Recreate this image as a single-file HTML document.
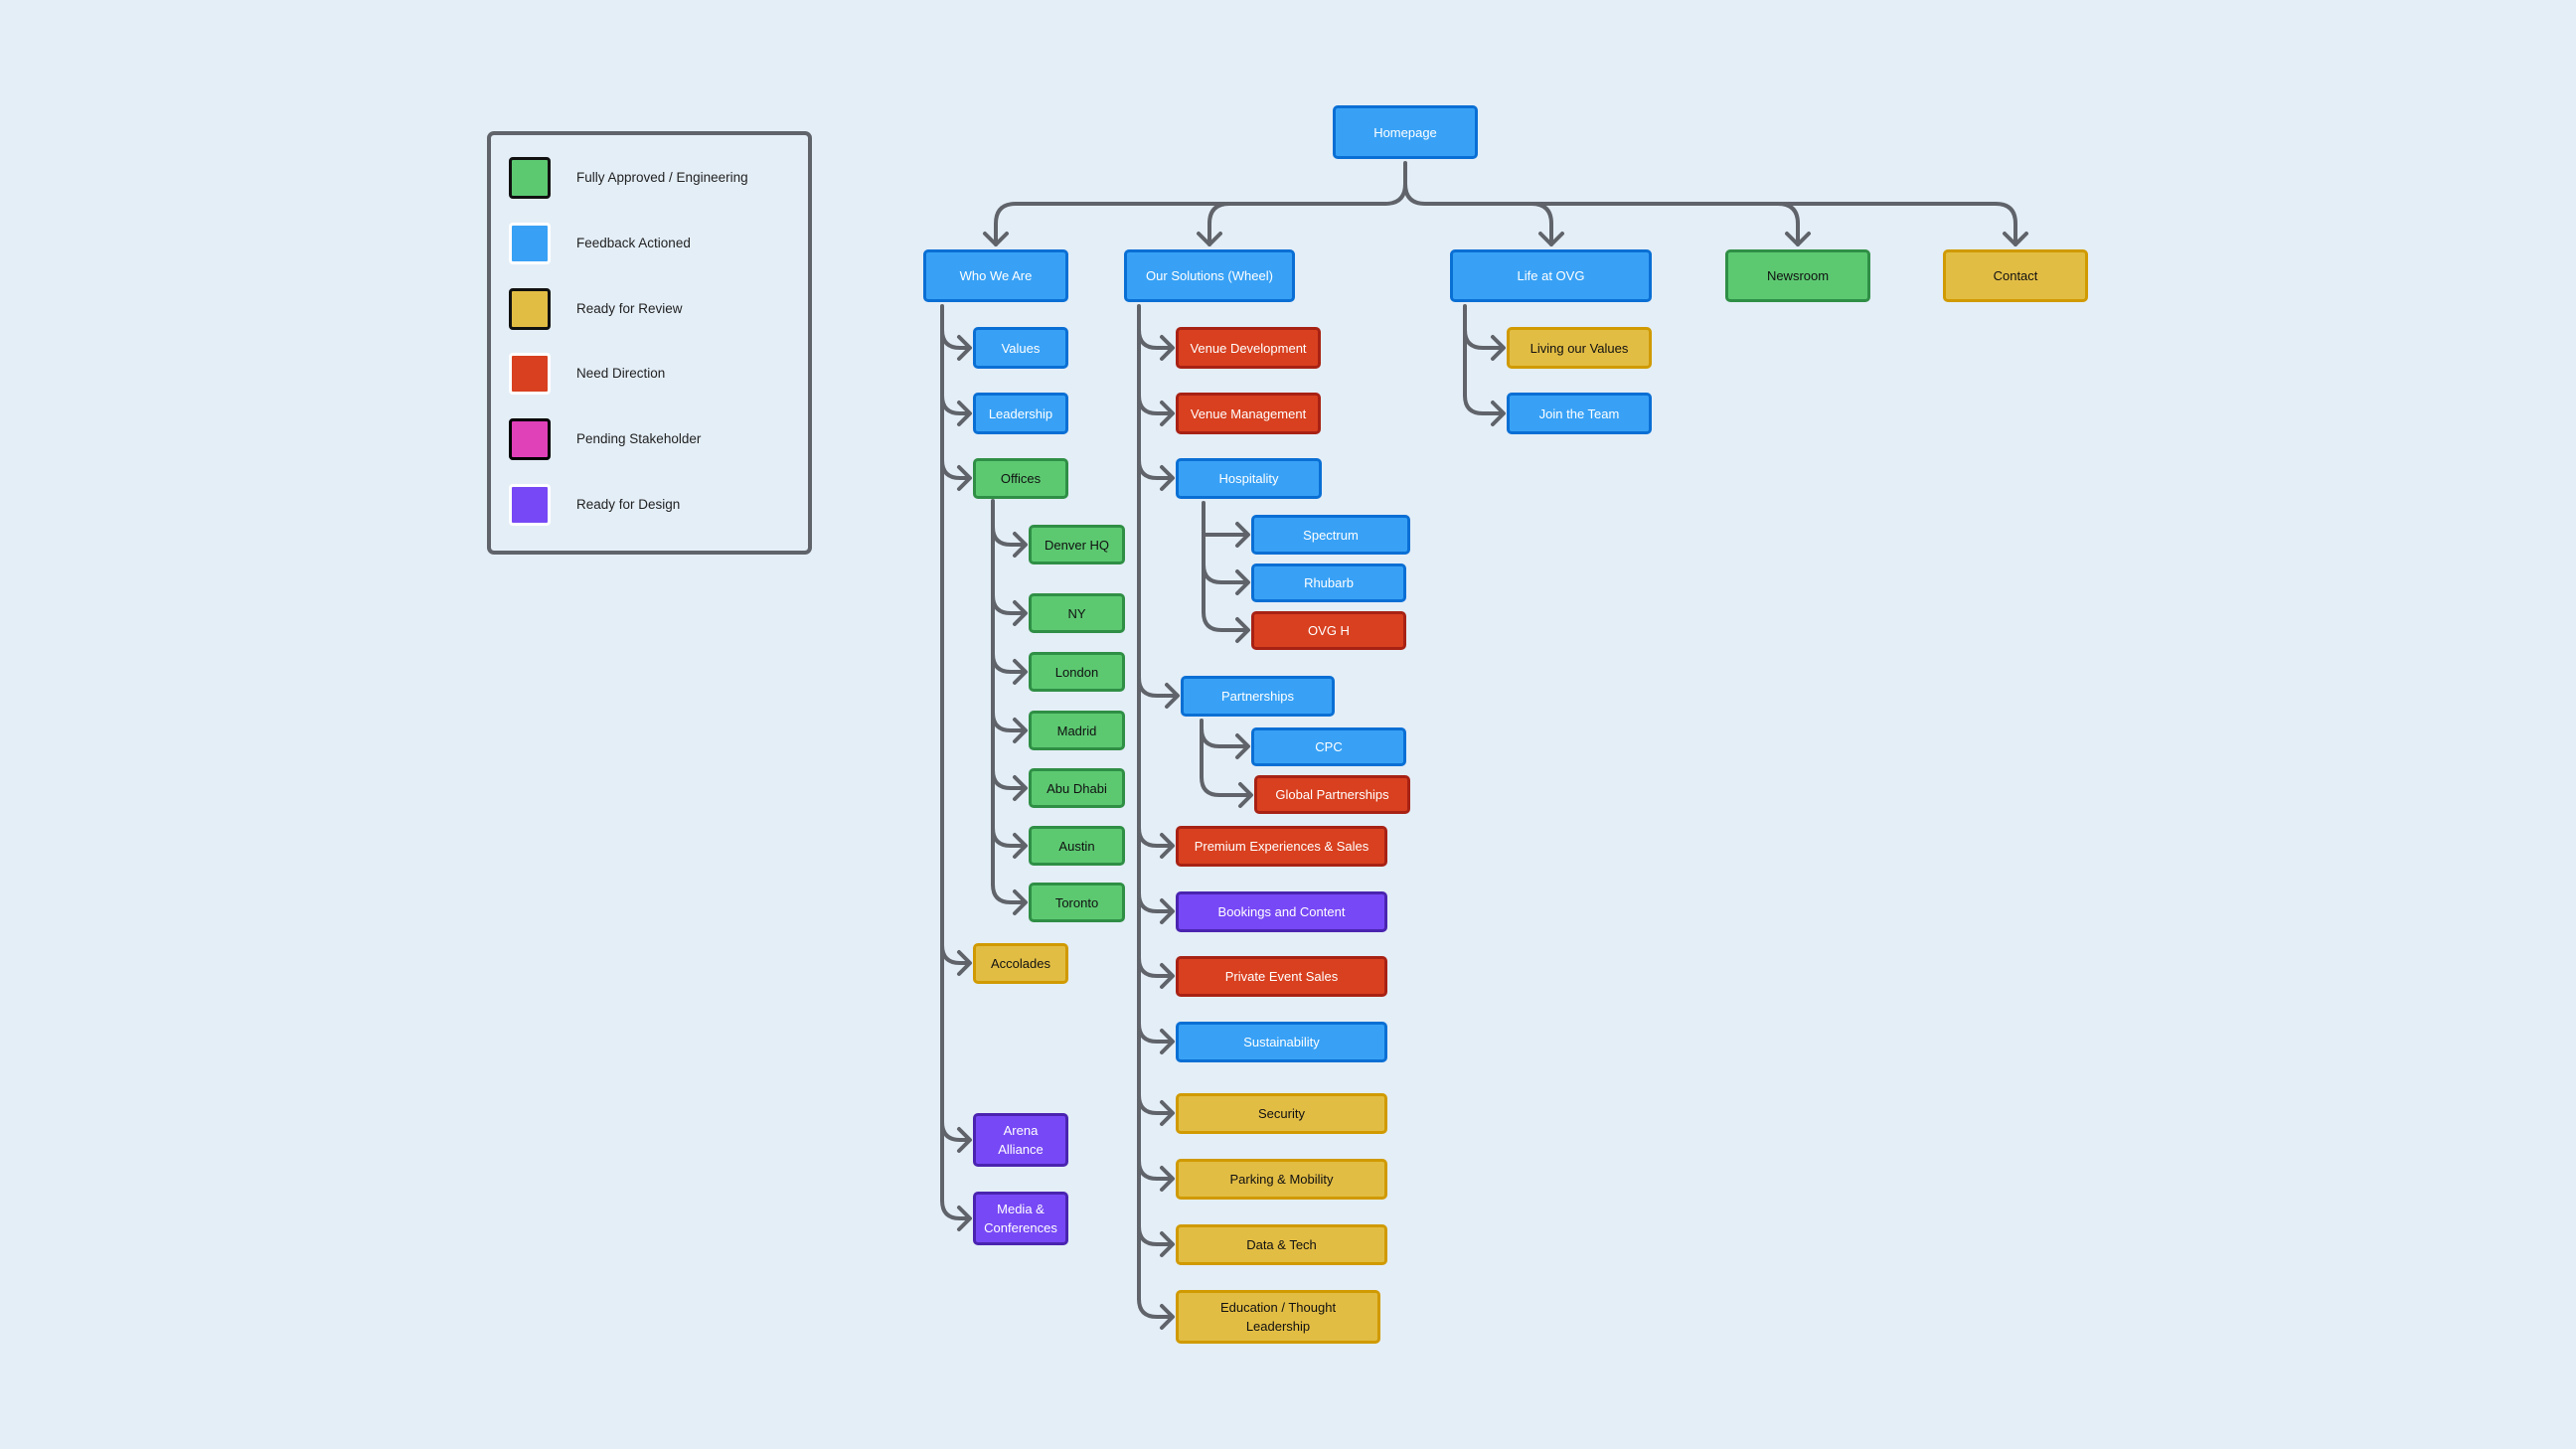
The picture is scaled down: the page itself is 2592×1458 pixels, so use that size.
<!DOCTYPE html>
<html><head><meta charset="utf-8"><style>
html,body{margin:0;padding:0}
body{width:2592px;height:1458px;background:#e4eef7;position:relative;overflow:hidden;font-family:"Liberation Sans",sans-serif}
.n{position:absolute;box-sizing:border-box;border:3px solid;border-radius:5px;display:flex;align-items:center;justify-content:center;text-align:center;font-size:13px;line-height:19px}
.b{background:#38a1f5;border-color:#0a6fd4;color:#fff}
.g{background:#5cc971;border-color:#2f8f45;color:#111}
.y{background:#e2bd44;border-color:#d09a00;color:#111}
.r{background:#d8401f;border-color:#a82214;color:#fff}
.p{background:#7748f5;border-color:#4a24b0;color:#fff}
.k{background:#e040b8;border-color:#a0207f}
.leg{position:absolute;left:490px;top:132px;width:327px;height:426px;box-sizing:border-box;border:4px solid #60646a;border-radius:7px}
.sw{position:absolute;left:512px;width:42px;height:42px;box-sizing:border-box;border:3px solid;border-radius:4px}
.lt{position:absolute;left:580px;font-size:13.5px;color:#222;line-height:42px}
svg{position:absolute;left:0;top:0}
</style></head><body>
<div class="leg"></div>
<div class="sw g" style="top:158px"></div><div class="lt" style="top:158px">Fully Approved / Engineering</div>
<div class="sw b" style="top:224px"></div><div class="lt" style="top:224px">Feedback Actioned</div>
<div class="sw y" style="top:290px"></div><div class="lt" style="top:290px">Ready for Review</div>
<div class="sw r" style="top:355px"></div><div class="lt" style="top:355px">Need Direction</div>
<div class="sw k" style="top:421px"></div><div class="lt" style="top:421px">Pending Stakeholder</div>
<div class="sw p" style="top:487px"></div><div class="lt" style="top:487px">Ready for Design</div>

<svg width="2592" height="1458" fill="none" stroke="#60646a" stroke-width="4" stroke-linecap="round" stroke-linejoin="round">
<!-- top -->
<path d="M1414 164 L1414 185 Q1414 205 1394 205 L1022 205 Q1002 205 1002 225 L1002 246"/>
<path d="M1414 185 Q1414 205 1434 205 L2008 205 Q2028 205 2028 225 L2028 246"/>
<path d="M1237 205 Q1217 205 1217 225 L1217 246"/>
<path d="M1541 205 Q1561 205 1561 225 L1561 246"/>
<path d="M1789 205 Q1809 205 1809 225 L1809 246"/>
<path d="M991 235 L1002 246 L1013 235 M1206 235 L1217 246 L1228 235 M1550 235 L1561 246 L1572 235 M1798 235 L1809 246 L1820 235 M2017 235 L2028 246 L2039 235"/>
<!-- Who trunk -->
<path d="M948 308 L948 1208"/>
<path d="M948 332 Q948 350 966 350 L975 350 M965 339 L976 350 L965 361"/>
<path d="M948 398 Q948 416 966 416 L975 416 M965 405 L976 416 L965 427"/>
<path d="M948 463 Q948 481 966 481 L975 481 M965 470 L976 481 L965 492"/>
<path d="M948 951 Q948 969 966 969 L975 969 M965 958 L976 969 L965 980"/>
<path d="M948 1129 Q948 1147 966 1147 L975 1147 M965 1136 L976 1147 L965 1158"/>
<path d="M948 1208 Q948 1226 966 1226 L975 1226 M965 1215 L976 1226 L965 1237"/>
<!-- Offices trunk -->
<path d="M999 504 L999 890"/>
<path d="M999 530 Q999 548 1017 548 L1031 548 M1021 537 L1032 548 L1021 559"/>
<path d="M999 599 Q999 617 1017 617 L1031 617 M1021 606 L1032 617 L1021 628"/>
<path d="M999 658 Q999 676 1017 676 L1031 676 M1021 665 L1032 676 L1021 687"/>
<path d="M999 717 Q999 735 1017 735 L1031 735 M1021 724 L1032 735 L1021 746"/>
<path d="M999 775 Q999 793 1017 793 L1031 793 M1021 782 L1032 793 L1021 804"/>
<path d="M999 833 Q999 851 1017 851 L1031 851 M1021 840 L1032 851 L1021 862"/>
<path d="M999 890 Q999 908 1017 908 L1031 908 M1021 897 L1032 908 L1021 919"/>
<!-- Solutions trunk -->
<path d="M1146 308 L1146 1307"/>
<path d="M1146 332 Q1146 350 1164 350 L1179 350 M1169 339 L1180 350 L1169 361"/>
<path d="M1146 398 Q1146 416 1164 416 L1179 416 M1169 405 L1180 416 L1169 427"/>
<path d="M1146 463 Q1146 481 1164 481 L1179 481 M1169 470 L1180 481 L1169 492"/>
<path d="M1146 682 Q1146 700 1164 700 L1184 700 M1174 689 L1185 700 L1174 711"/>
<path d="M1146 833 Q1146 851 1164 851 L1179 851 M1169 840 L1180 851 L1169 862"/>
<path d="M1146 899 Q1146 917 1164 917 L1179 917 M1169 906 L1180 917 L1169 928"/>
<path d="M1146 964 Q1146 982 1164 982 L1179 982 M1169 971 L1180 982 L1169 993"/>
<path d="M1146 1030 Q1146 1048 1164 1048 L1179 1048 M1169 1037 L1180 1048 L1169 1059"/>
<path d="M1146 1102 Q1146 1120 1164 1120 L1179 1120 M1169 1109 L1180 1120 L1169 1131"/>
<path d="M1146 1168 Q1146 1186 1164 1186 L1179 1186 M1169 1175 L1180 1186 L1169 1197"/>
<path d="M1146 1234 Q1146 1252 1164 1252 L1179 1252 M1169 1241 L1180 1252 L1169 1263"/>
<path d="M1146 1307 Q1146 1325 1164 1325 L1179 1325 M1169 1314 L1180 1325 L1169 1336"/>
<!-- Hospitality trunk -->
<path d="M1211 506 L1211 616"/>
<path d="M1211 538 L1255 538 M1245 527 L1256 538 L1245 549"/>
<path d="M1211 568 Q1211 586 1229 586 L1255 586 M1245 575 L1256 586 L1245 597"/>
<path d="M1211 616 Q1211 634 1229 634 L1255 634 M1245 623 L1256 634 L1245 645"/>
<!-- Partnerships trunk -->
<path d="M1209 725 L1209 782"/>
<path d="M1209 733 Q1209 751 1227 751 L1255 751 M1245 740 L1256 751 L1245 762"/>
<path d="M1209 782 Q1209 800 1227 800 L1258 800 M1248 789 L1259 800 L1248 811"/>
<!-- Life trunk -->
<path d="M1474 308 L1474 398"/>
<path d="M1474 332 Q1474 350 1492 350 L1512 350 M1502 339 L1513 350 L1502 361"/>
<path d="M1474 398 Q1474 416 1492 416 L1512 416 M1502 405 L1513 416 L1502 427"/>
</svg>

<div class="n b" style="left:1341px;top:106px;width:146px;height:54px">Homepage</div>
<div class="n b" style="left:929px;top:251px;width:146px;height:53px">Who We Are</div>
<div class="n b" style="left:1131px;top:251px;width:172px;height:53px">Our Solutions (Wheel)</div>
<div class="n b" style="left:1459px;top:251px;width:203px;height:53px">Life at OVG</div>
<div class="n g" style="left:1736px;top:251px;width:146px;height:53px">Newsroom</div>
<div class="n y" style="left:1955px;top:251px;width:146px;height:53px">Contact</div>

<div class="n b" style="left:979px;top:329px;width:96px;height:42px">Values</div>
<div class="n b" style="left:979px;top:395px;width:96px;height:42px">Leadership</div>
<div class="n g" style="left:979px;top:461px;width:96px;height:41px">Offices</div>
<div class="n y" style="left:979px;top:949px;width:96px;height:41px">Accolades</div>
<div class="n p" style="left:979px;top:1120px;width:96px;height:54px">Arena<br>Alliance</div>
<div class="n p" style="left:979px;top:1199px;width:96px;height:54px">Media &amp;<br>Conferences</div>

<div class="n g" style="left:1035px;top:528px;width:97px;height:40px">Denver HQ</div>
<div class="n g" style="left:1035px;top:597px;width:97px;height:40px">NY</div>
<div class="n g" style="left:1035px;top:656px;width:97px;height:40px">London</div>
<div class="n g" style="left:1035px;top:715px;width:97px;height:40px">Madrid</div>
<div class="n g" style="left:1035px;top:773px;width:97px;height:40px">Abu Dhabi</div>
<div class="n g" style="left:1035px;top:831px;width:97px;height:40px">Austin</div>
<div class="n g" style="left:1035px;top:888px;width:97px;height:40px">Toronto</div>

<div class="n r" style="left:1183px;top:329px;width:146px;height:42px">Venue Development</div>
<div class="n r" style="left:1183px;top:395px;width:146px;height:42px">Venue Management</div>
<div class="n b" style="left:1183px;top:461px;width:147px;height:41px">Hospitality</div>
<div class="n b" style="left:1259px;top:518px;width:160px;height:40px">Spectrum</div>
<div class="n b" style="left:1259px;top:567px;width:156px;height:39px">Rhubarb</div>
<div class="n r" style="left:1259px;top:615px;width:156px;height:39px">OVG H</div>
<div class="n b" style="left:1188px;top:680px;width:155px;height:41px">Partnerships</div>
<div class="n b" style="left:1259px;top:732px;width:156px;height:39px">CPC</div>
<div class="n r" style="left:1262px;top:780px;width:157px;height:39px">Global Partnerships</div>
<div class="n r" style="left:1183px;top:831px;width:213px;height:41px">Premium Experiences &amp; Sales</div>
<div class="n p" style="left:1183px;top:897px;width:213px;height:41px">Bookings and Content</div>
<div class="n r" style="left:1183px;top:962px;width:213px;height:41px">Private Event Sales</div>
<div class="n b" style="left:1183px;top:1028px;width:213px;height:41px">Sustainability</div>
<div class="n y" style="left:1183px;top:1100px;width:213px;height:41px">Security</div>
<div class="n y" style="left:1183px;top:1166px;width:213px;height:41px">Parking &amp; Mobility</div>
<div class="n y" style="left:1183px;top:1232px;width:213px;height:41px">Data &amp; Tech</div>
<div class="n y" style="left:1183px;top:1298px;width:206px;height:54px">Education / Thought<br>Leadership</div>

<div class="n y" style="left:1516px;top:329px;width:146px;height:42px">Living our Values</div>
<div class="n b" style="left:1516px;top:395px;width:146px;height:42px">Join the Team</div>
</body></html>
